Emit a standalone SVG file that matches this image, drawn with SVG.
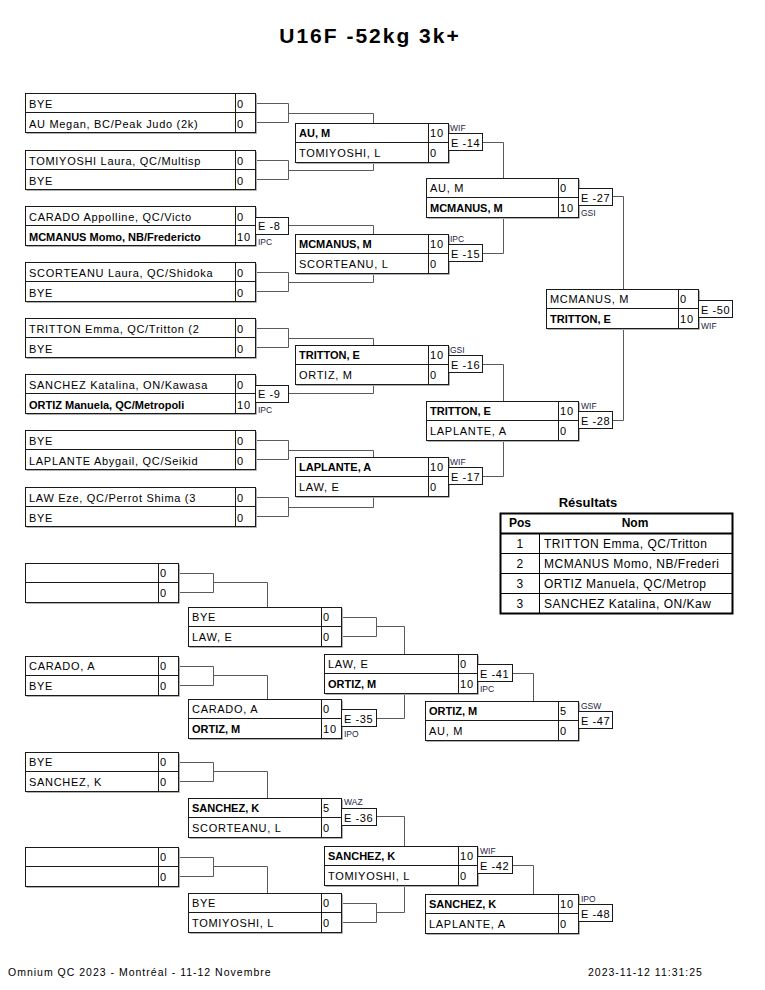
<svg xmlns="http://www.w3.org/2000/svg" width="765" height="990" viewBox="0 0 765 990">
<style>
.bx{fill:#fff;stroke:#1a1a1a;stroke-width:1}
.sh{fill:none;stroke:#b0b0b0;stroke-width:1}
.dv{fill:none;stroke:#1a1a1a;stroke-width:1}
.ln{fill:none;stroke:#5a5a5a;stroke-width:1}
.eb{fill:#fff;stroke:#1a1a1a;stroke-width:1}
text{font-family:"Liberation Sans",Arial,sans-serif;fill:#000}
.n{font-size:11px;letter-spacing:0.7px}
.b{font-size:11px;font-weight:bold}
.sc{font-size:11px;letter-spacing:1px}
.e{font-size:11px;letter-spacing:0.6px}
.lb{font-size:8.5px;fill:#222244}
.t{font-size:21px;font-weight:bold;letter-spacing:2px}
.ft{font-size:10.5px;letter-spacing:1px}
.rh{font-size:12px;font-weight:bold}
.rt{font-size:13px;font-weight:bold}
.rn{font-size:12px;letter-spacing:0.5px}
</style>
<rect width="765" height="990" fill="#fff"/>
<text class="t" x="370" y="43" text-anchor="middle">U16F -52kg 3k+</text>

<g id="connectors">
<path class="ln" d="M255.5 103.5H288.5V122.5H255.5M288.5 113.5H373.5V123.5"/>
<path class="ln" d="M255.5 160.5H288.5V179.5H255.5M288.5 170.5H373.5V162.5"/>
<path class="ln" d="M288.5 225.5H373.5V234.5"/>
<path class="ln" d="M255.5 272.5H288.5V291.5H255.5M288.5 282.5H373.5V273.5"/>
<path class="ln" d="M255.5 328.5H288.5V347.5H255.5M288.5 338.5H373.5V345.5"/>
<path class="ln" d="M288.5 393.5H373.5V384.5"/>
<path class="ln" d="M255.5 440.5H288.5V459.5H255.5M288.5 450.5H373.5V457.5"/>
<path class="ln" d="M255.5 497.5H288.5V516.5H255.5M288.5 507.5H373.5V496.5"/>
<path class="ln" d="M482.5 142.5H503.5V178.5"/>
<path class="ln" d="M482.5 253.5H503.5V217.5"/>
<path class="ln" d="M482.5 364.5H503.5V401.5"/>
<path class="ln" d="M482.5 476.5H503.5V440.5"/>
<path class="ln" d="M612.5 196.5H623.5V289.5"/>
<path class="ln" d="M612.5 420.5H623.5V328.5"/>
<path class="ln" d="M178.5 573.5H213.5V592.5H178.5M213.5 582.5H267.5V607.5"/>
<path class="ln" d="M178.5 666.5H213.5V685.5H178.5M213.5 675.5H267.5V699.5"/>
<path class="ln" d="M178.5 762.5H213.5V781.5H178.5M213.5 771.5H267.5V798.5"/>
<path class="ln" d="M178.5 857.5H213.5V876.5H178.5M213.5 866.5H267.5V893.5"/>
<path class="ln" d="M341.5 617.5H376.5V636.5H341.5M376.5 626.5H404.5V654.5"/>
<path class="ln" d="M376.5 718.5H404.5V693.5"/>
<path class="ln" d="M376.5 816.5H404.5V846.5"/>
<path class="ln" d="M341.5 903.5H376.5V922.5H341.5M376.5 912.5H404.5V885.5"/>
<path class="ln" d="M512.5 673.5H533.5V701.5"/>
<path class="ln" d="M512.5 865.5H533.5V894.5"/>
</g>

<!-- Main bracket round 1 -->
<g id="m1">
<path class="sh" d="M26.5 133.5H256.5V94.5"/>
<rect class="bx" x="25.5" y="93.5" width="230" height="39"/>
<path class="dv" d="M25.5 112.5H255.5M235.5 93.5V132.5"/>
<text class="n" x="29" y="108">BYE</text>
<text class="n" x="29" y="128">AU Megan, BC/Peak Judo (2k)</text>
<text class="sc" x="237" y="108">0</text>
<text class="sc" x="237" y="128">0</text>
</g>
<g id="m2">
<path class="sh" d="M26.5 190.5H256.5V151.5"/>
<rect class="bx" x="25.5" y="150.5" width="230" height="39"/>
<path class="dv" d="M25.5 169.5H255.5M235.5 150.5V189.5"/>
<text class="n" x="29" y="165">TOMIYOSHI Laura, QC/Multisp</text>
<text class="n" x="29" y="185">BYE</text>
<text class="sc" x="237" y="165">0</text>
<text class="sc" x="237" y="185">0</text>
</g>
<g id="m3">
<path class="sh" d="M26.5 246.5H256.5V207.5"/>
<rect class="bx" x="25.5" y="206.5" width="230" height="39"/>
<path class="dv" d="M25.5 225.5H255.5M235.5 206.5V245.5"/>
<text class="n" x="29" y="221">CARADO Appolline, QC/Victo</text>
<text class="b" x="29" y="241">MCMANUS Momo, NB/Fredericto</text>
<text class="sc" x="237" y="221">0</text>
<text class="sc" x="237" y="241">10</text>
<rect class="eb" x="255.5" y="217.5" width="33" height="17"/>
<text class="e" x="258" y="230">E -8</text>
<text class="lb" x="258" y="245">IPC</text>
</g>
<g id="m4">
<path class="sh" d="M26.5 302.5H256.5V263.5"/>
<rect class="bx" x="25.5" y="262.5" width="230" height="39"/>
<path class="dv" d="M25.5 281.5H255.5M235.5 262.5V301.5"/>
<text class="n" x="29" y="277">SCORTEANU Laura, QC/Shidoka</text>
<text class="n" x="29" y="297">BYE</text>
<text class="sc" x="237" y="277">0</text>
<text class="sc" x="237" y="297">0</text>
</g>
<g id="m5">
<path class="sh" d="M26.5 358.5H256.5V319.5"/>
<rect class="bx" x="25.5" y="318.5" width="230" height="39"/>
<path class="dv" d="M25.5 337.5H255.5M235.5 318.5V357.5"/>
<text class="n" x="29" y="333">TRITTON Emma, QC/Tritton (2</text>
<text class="n" x="29" y="353">BYE</text>
<text class="sc" x="237" y="333">0</text>
<text class="sc" x="237" y="353">0</text>
</g>
<g id="m6">
<path class="sh" d="M26.5 414.5H256.5V375.5"/>
<rect class="bx" x="25.5" y="374.5" width="230" height="39"/>
<path class="dv" d="M25.5 393.5H255.5M235.5 374.5V413.5"/>
<text class="n" x="29" y="389">SANCHEZ Katalina, ON/Kawasa</text>
<text class="b" x="29" y="409">ORTIZ Manuela, QC/Metropoli</text>
<text class="sc" x="237" y="389">0</text>
<text class="sc" x="237" y="409">10</text>
<rect class="eb" x="255.5" y="385.5" width="33" height="17"/>
<text class="e" x="258" y="398">E -9</text>
<text class="lb" x="258" y="413">IPC</text>
</g>
<g id="m7">
<path class="sh" d="M26.5 470.5H256.5V431.5"/>
<rect class="bx" x="25.5" y="430.5" width="230" height="39"/>
<path class="dv" d="M25.5 449.5H255.5M235.5 430.5V469.5"/>
<text class="n" x="29" y="445">BYE</text>
<text class="n" x="29" y="465">LAPLANTE Abygail, QC/Seikid</text>
<text class="sc" x="237" y="445">0</text>
<text class="sc" x="237" y="465">0</text>
</g>
<g id="m8">
<path class="sh" d="M26.5 527.5H256.5V488.5"/>
<rect class="bx" x="25.5" y="487.5" width="230" height="39"/>
<path class="dv" d="M25.5 506.5H255.5M235.5 487.5V526.5"/>
<text class="n" x="29" y="502">LAW Eze, QC/Perrot Shima (3</text>
<text class="n" x="29" y="522">BYE</text>
<text class="sc" x="237" y="502">0</text>
<text class="sc" x="237" y="522">0</text>
</g>

<!-- Main bracket round 2 -->
<g id="m14">
<path class="sh" d="M296.5 163.5H449.5V124.5"/>
<rect class="bx" x="295.5" y="123.5" width="153" height="39"/>
<path class="dv" d="M295.5 142.5H448.5M428.5 123.5V162.5"/>
<text class="b" x="299" y="137">AU, M</text>
<text class="n" x="299" y="157">TOMIYOSHI, L</text>
<text class="sc" x="430" y="137">10</text>
<text class="sc" x="430" y="157">0</text>
<rect class="eb" x="448.5" y="133.5" width="34" height="17"/>
<text class="e" x="451" y="147">E -14</text>
<text class="lb" x="450" y="131">WIF</text>
</g>
<g id="m15">
<path class="sh" d="M296.5 274.5H449.5V235.5"/>
<rect class="bx" x="295.5" y="234.5" width="153" height="39"/>
<path class="dv" d="M295.5 253.5H448.5M428.5 234.5V273.5"/>
<text class="b" x="299" y="248">MCMANUS, M</text>
<text class="n" x="299" y="268">SCORTEANU, L</text>
<text class="sc" x="430" y="248">10</text>
<text class="sc" x="430" y="268">0</text>
<rect class="eb" x="448.5" y="244.5" width="34" height="17"/>
<text class="e" x="451" y="258">E -15</text>
<text class="lb" x="450" y="242">IPC</text>
</g>
<g id="m16">
<path class="sh" d="M296.5 385.5H449.5V346.5"/>
<rect class="bx" x="295.5" y="345.5" width="153" height="39"/>
<path class="dv" d="M295.5 364.5H448.5M428.5 345.5V384.5"/>
<text class="b" x="299" y="359">TRITTON, E</text>
<text class="n" x="299" y="379">ORTIZ, M</text>
<text class="sc" x="430" y="359">10</text>
<text class="sc" x="430" y="379">0</text>
<rect class="eb" x="448.5" y="355.5" width="34" height="17"/>
<text class="e" x="451" y="369">E -16</text>
<text class="lb" x="450" y="353">GSI</text>
</g>
<g id="m17">
<path class="sh" d="M296.5 497.5H449.5V458.5"/>
<rect class="bx" x="295.5" y="457.5" width="153" height="39"/>
<path class="dv" d="M295.5 476.5H448.5M428.5 457.5V496.5"/>
<text class="b" x="299" y="471">LAPLANTE, A</text>
<text class="n" x="299" y="491">LAW, E</text>
<text class="sc" x="430" y="471">10</text>
<text class="sc" x="430" y="491">0</text>
<rect class="eb" x="448.5" y="467.5" width="34" height="17"/>
<text class="e" x="451" y="481">E -17</text>
<text class="lb" x="450" y="465">WIF</text>
</g>

<!-- Semi-finals -->
<g id="m27">
<path class="sh" d="M427.5 218.5H579.5V179.5"/>
<rect class="bx" x="426.5" y="178.5" width="152" height="39"/>
<path class="dv" d="M426.5 197.5H578.5M558.5 178.5V217.5"/>
<text class="n" x="430" y="192">AU, M</text>
<text class="b" x="430" y="212">MCMANUS, M</text>
<text class="sc" x="560" y="192">0</text>
<text class="sc" x="560" y="212">10</text>
<rect class="eb" x="578.5" y="188.5" width="34" height="17"/>
<text class="e" x="581" y="202">E -27</text>
<text class="lb" x="581" y="216">GSI</text>
</g>
<g id="m28">
<path class="sh" d="M427.5 441.5H579.5V402.5"/>
<rect class="bx" x="426.5" y="401.5" width="152" height="39"/>
<path class="dv" d="M426.5 420.5H578.5M558.5 401.5V440.5"/>
<text class="b" x="430" y="415">TRITTON, E</text>
<text class="n" x="430" y="435">LAPLANTE, A</text>
<text class="sc" x="560" y="415">10</text>
<text class="sc" x="560" y="435">0</text>
<rect class="eb" x="578.5" y="411.5" width="34" height="17"/>
<text class="e" x="581" y="425">E -28</text>
<text class="lb" x="581" y="409">WIF</text>
</g>

<!-- Final -->
<g id="m50">
<path class="sh" d="M547.5 329.5H699.5V290.5"/>
<rect class="bx" x="546.5" y="289.5" width="152" height="39"/>
<path class="dv" d="M546.5 308.5H698.5M678.5 289.5V328.5"/>
<text class="n" x="550" y="303">MCMANUS, M</text>
<text class="b" x="550" y="323">TRITTON, E</text>
<text class="sc" x="680" y="303">0</text>
<text class="sc" x="680" y="323">10</text>
<rect class="eb" x="698.5" y="300.5" width="34" height="17"/>
<text class="e" x="701" y="314">E -50</text>
<text class="lb" x="701" y="329">WIF</text>
</g>

<!-- Results -->
<g id="results">
<text class="rt" x="588" y="507" text-anchor="middle">Résultats</text>
<rect x="500.5" y="513.5" width="232" height="100" fill="#fff" stroke="#000" stroke-width="2"/>
<path d="M500.5 533.5H732.5" stroke="#000" stroke-width="2" fill="none"/>
<path d="M500.5 553.5H732.5M500.5 573.5H732.5M500.5 593.5H732.5M539.5 533.5V613.5" stroke="#000" stroke-width="1" fill="none"/>
<text class="rh" x="520" y="527" text-anchor="middle">Pos</text>
<text class="rh" x="635" y="527" text-anchor="middle">Nom</text>
<text class="rn" x="520" y="548" text-anchor="middle">1</text>
<text class="rn" x="520" y="568" text-anchor="middle">2</text>
<text class="rn" x="520" y="588" text-anchor="middle">3</text>
<text class="rn" x="520" y="608" text-anchor="middle">3</text>
<text class="rn" x="544" y="548">TRITTON Emma, QC/Tritton</text>
<text class="rn" x="544" y="568">MCMANUS Momo, NB/Frederi</text>
<text class="rn" x="544" y="588">ORTIZ Manuela, QC/Metrop</text>
<text class="rn" x="544" y="608">SANCHEZ Katalina, ON/Kaw</text>
</g>

<!-- Repechage round 1 -->
<g id="r1">
<path class="sh" d="M26.5 603.5H179.5V564.5"/>
<rect class="bx" x="25.5" y="563.5" width="153" height="39"/>
<path class="dv" d="M25.5 582.5H178.5M158.5 563.5V602.5"/>
<text class="sc" x="160" y="577">0</text>
<text class="sc" x="160" y="597">0</text>
</g>
<g id="r2">
<path class="sh" d="M26.5 696.5H179.5V657.5"/>
<rect class="bx" x="25.5" y="656.5" width="153" height="39"/>
<path class="dv" d="M25.5 675.5H178.5M158.5 656.5V695.5"/>
<text class="n" x="29" y="670">CARADO, A</text>
<text class="n" x="29" y="690">BYE</text>
<text class="sc" x="160" y="670">0</text>
<text class="sc" x="160" y="690">0</text>
</g>
<g id="r3">
<path class="sh" d="M26.5 792.5H179.5V753.5"/>
<rect class="bx" x="25.5" y="752.5" width="153" height="39"/>
<path class="dv" d="M25.5 771.5H178.5M158.5 752.5V791.5"/>
<text class="n" x="29" y="766">BYE</text>
<text class="n" x="29" y="786">SANCHEZ, K</text>
<text class="sc" x="160" y="766">0</text>
<text class="sc" x="160" y="786">0</text>
</g>
<g id="r4">
<path class="sh" d="M26.5 887.5H179.5V848.5"/>
<rect class="bx" x="25.5" y="847.5" width="153" height="39"/>
<path class="dv" d="M25.5 866.5H178.5M158.5 847.5V886.5"/>
<text class="sc" x="160" y="861">0</text>
<text class="sc" x="160" y="881">0</text>
</g>

<!-- Repechage round 2 -->
<g id="r5">
<path class="sh" d="M189.5 647.5H342.5V608.5"/>
<rect class="bx" x="188.5" y="607.5" width="153" height="39"/>
<path class="dv" d="M188.5 626.5H341.5M321.5 607.5V646.5"/>
<text class="n" x="192" y="621">BYE</text>
<text class="n" x="192" y="641">LAW, E</text>
<text class="sc" x="323" y="621">0</text>
<text class="sc" x="323" y="641">0</text>
</g>
<g id="m35">
<path class="sh" d="M189.5 739.5H342.5V700.5"/>
<rect class="bx" x="188.5" y="699.5" width="153" height="39"/>
<path class="dv" d="M188.5 718.5H341.5M321.5 699.5V738.5"/>
<text class="n" x="192" y="713">CARADO, A</text>
<text class="b" x="192" y="733">ORTIZ, M</text>
<text class="sc" x="323" y="713">0</text>
<text class="sc" x="323" y="733">10</text>
<rect class="eb" x="341.5" y="709.5" width="35" height="17"/>
<text class="e" x="344" y="723">E -35</text>
<text class="lb" x="344" y="737">IPO</text>
</g>
<g id="m36">
<path class="sh" d="M189.5 838.5H342.5V799.5"/>
<rect class="bx" x="188.5" y="798.5" width="153" height="39"/>
<path class="dv" d="M188.5 817.5H341.5M321.5 798.5V837.5"/>
<text class="b" x="192" y="812">SANCHEZ, K</text>
<text class="n" x="192" y="832">SCORTEANU, L</text>
<text class="sc" x="323" y="812">5</text>
<text class="sc" x="323" y="832">0</text>
<rect class="eb" x="341.5" y="808.5" width="35" height="17"/>
<text class="e" x="344" y="822">E -36</text>
<text class="lb" x="344" y="805">WAZ</text>
</g>
<g id="r8">
<path class="sh" d="M189.5 933.5H342.5V894.5"/>
<rect class="bx" x="188.5" y="893.5" width="153" height="39"/>
<path class="dv" d="M188.5 912.5H341.5M321.5 893.5V932.5"/>
<text class="n" x="192" y="907">BYE</text>
<text class="n" x="192" y="927">TOMIYOSHI, L</text>
<text class="sc" x="323" y="907">0</text>
<text class="sc" x="323" y="927">0</text>
</g>

<!-- Repechage round 3 -->
<g id="m41">
<path class="sh" d="M325.5 694.5H478.5V655.5"/>
<rect class="bx" x="324.5" y="654.5" width="153" height="39"/>
<path class="dv" d="M324.5 673.5H477.5M458.5 654.5V693.5"/>
<text class="n" x="328" y="668">LAW, E</text>
<text class="b" x="328" y="688">ORTIZ, M</text>
<text class="sc" x="460" y="668">0</text>
<text class="sc" x="460" y="688">10</text>
<rect class="eb" x="477.5" y="664.5" width="35" height="17"/>
<text class="e" x="480" y="678">E -41</text>
<text class="lb" x="480" y="692">IPC</text>
</g>
<g id="m42">
<path class="sh" d="M325.5 886.5H478.5V847.5"/>
<rect class="bx" x="324.5" y="846.5" width="153" height="39"/>
<path class="dv" d="M324.5 865.5H477.5M458.5 846.5V885.5"/>
<text class="b" x="328" y="860">SANCHEZ, K</text>
<text class="n" x="328" y="880">TOMIYOSHI, L</text>
<text class="sc" x="460" y="860">10</text>
<text class="sc" x="460" y="880">0</text>
<rect class="eb" x="477.5" y="856.5" width="35" height="17"/>
<text class="e" x="480" y="870">E -42</text>
<text class="lb" x="480" y="854">WIF</text>
</g>

<!-- Bronze -->
<g id="m47">
<path class="sh" d="M426.5 741.5H579.5V702.5"/>
<rect class="bx" x="425.5" y="701.5" width="153" height="39"/>
<path class="dv" d="M425.5 720.5H578.5M558.5 701.5V740.5"/>
<text class="b" x="429" y="715">ORTIZ, M</text>
<text class="n" x="429" y="735">AU, M</text>
<text class="sc" x="560" y="715">5</text>
<text class="sc" x="560" y="735">0</text>
<rect class="eb" x="578.5" y="711.5" width="34" height="17"/>
<text class="e" x="581" y="725">E -47</text>
<text class="lb" x="581" y="709">GSW</text>
</g>
<g id="m48">
<path class="sh" d="M426.5 934.5H579.5V895.5"/>
<rect class="bx" x="425.5" y="894.5" width="153" height="39"/>
<path class="dv" d="M425.5 913.5H578.5M558.5 894.5V933.5"/>
<text class="b" x="429" y="908">SANCHEZ, K</text>
<text class="n" x="429" y="928">LAPLANTE, A</text>
<text class="sc" x="560" y="908">10</text>
<text class="sc" x="560" y="928">0</text>
<rect class="eb" x="578.5" y="904.5" width="34" height="17"/>
<text class="e" x="581" y="918">E -48</text>
<text class="lb" x="581" y="902">IPO</text>
</g>

<text class="ft" x="8" y="976">Omnium QC 2023 - Montréal - 11-12 Novembre</text>
<text class="ft" x="588" y="976">2023-11-12 11:31:25</text>
</svg>
